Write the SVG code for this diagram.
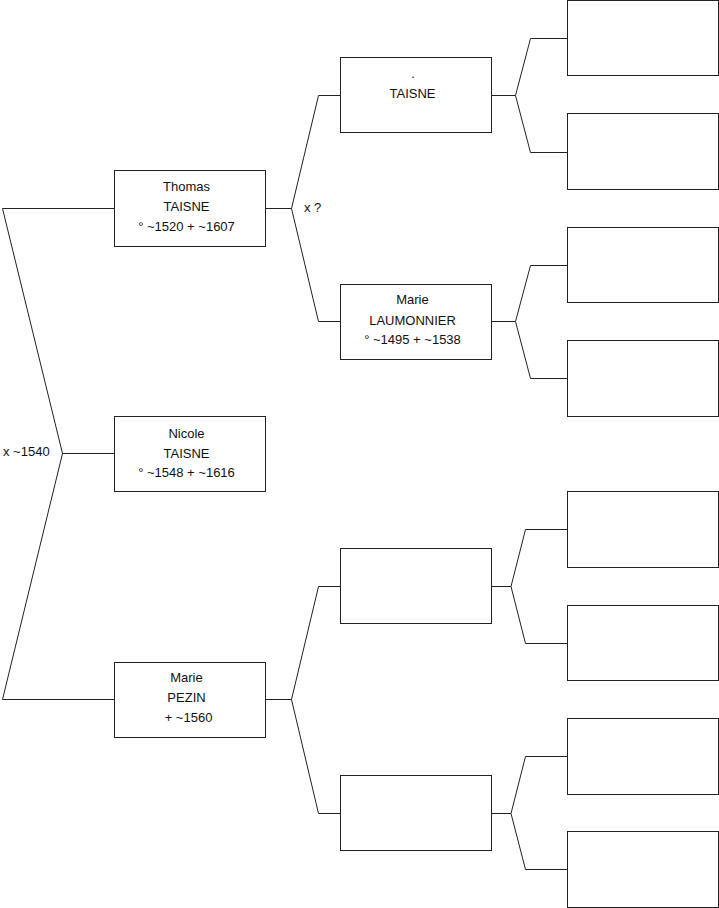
<svg xmlns="http://www.w3.org/2000/svg" width="719" height="908" viewBox="0 0 719 908">
<style>
.box{fill:#fff;stroke:#222;stroke-width:1}
.ln{fill:none;stroke:#222;stroke-width:1}
text{font-family:"Liberation Sans",Arial,sans-serif;font-size:13px;fill:#111}
.c{text-anchor:middle}
</style>
<rect width="719" height="908" fill="#fff"/>
<g id="connectors">
<polyline class="ln" points="114,208.5 2.5,208.5 62.5,453.5 2.5,699.5 114,699.5"/>
<line class="ln" x1="62.5" y1="453.5" x2="114" y2="453.5"/>
<polyline class="ln" points="265,208.5 291.5,208.5 318.5,95.5 340,95.5"/>
<polyline class="ln" points="291.5,208.5 318.5,321.5 340,321.5"/>
<polyline class="ln" points="265,699.5 291.5,699.5 318.5,586.5 340,586.5"/>
<polyline class="ln" points="291.5,699.5 318.5,813.5 340,813.5"/>
<polyline class="ln" points="491,95.5 515.5,95.5 530.5,38.5 567,38.5"/>
<polyline class="ln" points="515.5,95.5 530.5,152.5 567,152.5"/>
<polyline class="ln" points="491,321.5 515.5,321.5 530.5,265.5 567,265.5"/>
<polyline class="ln" points="515.5,321.5 530.5,378.5 567,378.5"/>
<polyline class="ln" points="491,586.5 511,586.5 525.5,529.5 567,529.5"/>
<polyline class="ln" points="511,586.5 525.5,643.5 567,643.5"/>
<polyline class="ln" points="491,813.5 511,813.5 525.5,756.5 567,756.5"/>
<polyline class="ln" points="511,813.5 525.5,869.5 567,869.5"/>
<text x="3" y="456">x ~1540</text>
<text x="304" y="212">x ?</text>
</g>
<g id="thomas">
<rect class="box" x="114.5" y="170.5" width="151" height="76"/>
<text class="c" x="186.5" y="191">Thomas</text>
<text class="c" x="186.5" y="211">TAISNE</text>
<text class="c" x="186.5" y="230.5">° ~1520 + ~1607</text>
</g>
<g id="nicole">
<rect class="box" x="114.5" y="416.5" width="151" height="75"/>
<text class="c" x="186.5" y="437.5">Nicole</text>
<text class="c" x="186.5" y="457.5">TAISNE</text>
<text class="c" x="186.5" y="477">° ~1548 + ~1616</text>
</g>
<g id="pezin">
<rect class="box" x="114.5" y="662.5" width="151" height="75"/>
<text class="c" x="186.5" y="682">Marie</text>
<text class="c" x="186.5" y="702">PEZIN</text>
<text class="c" x="188.5" y="722">+ ~1560</text>
</g>
<g id="taisne-father">
<rect class="box" x="340.5" y="57.5" width="151" height="75"/>
<text class="c" x="413" y="78">.</text>
<text class="c" x="412.5" y="98">TAISNE</text>
</g>
<g id="laumonnier">
<rect class="box" x="340.5" y="284.5" width="151" height="75"/>
<text class="c" x="412.5" y="304">Marie</text>
<text class="c" x="412.5" y="324.5">LAUMONNIER</text>
<text class="c" x="412.5" y="344">° ~1495 + ~1538</text>
</g>
<g id="pezin-father"><rect class="box" x="340.5" y="548.5" width="151" height="75"/></g>
<g id="pezin-mother"><rect class="box" x="340.5" y="775.5" width="151" height="75"/></g>
<g id="gp1"><rect class="box" x="567.5" y="0.5" width="151" height="75"/></g>
<g id="gp2"><rect class="box" x="567.5" y="113.5" width="151" height="76"/></g>
<g id="gp3"><rect class="box" x="567.5" y="227.5" width="151" height="75"/></g>
<g id="gp4"><rect class="box" x="567.5" y="340.5" width="151" height="76"/></g>
<g id="gp5"><rect class="box" x="567.5" y="491.5" width="151" height="76"/></g>
<g id="gp6"><rect class="box" x="567.5" y="605.5" width="151" height="75"/></g>
<g id="gp7"><rect class="box" x="567.5" y="718.5" width="151" height="76"/></g>
<g id="gp8"><rect class="box" x="567.5" y="831.5" width="151" height="76"/></g>
</svg>
